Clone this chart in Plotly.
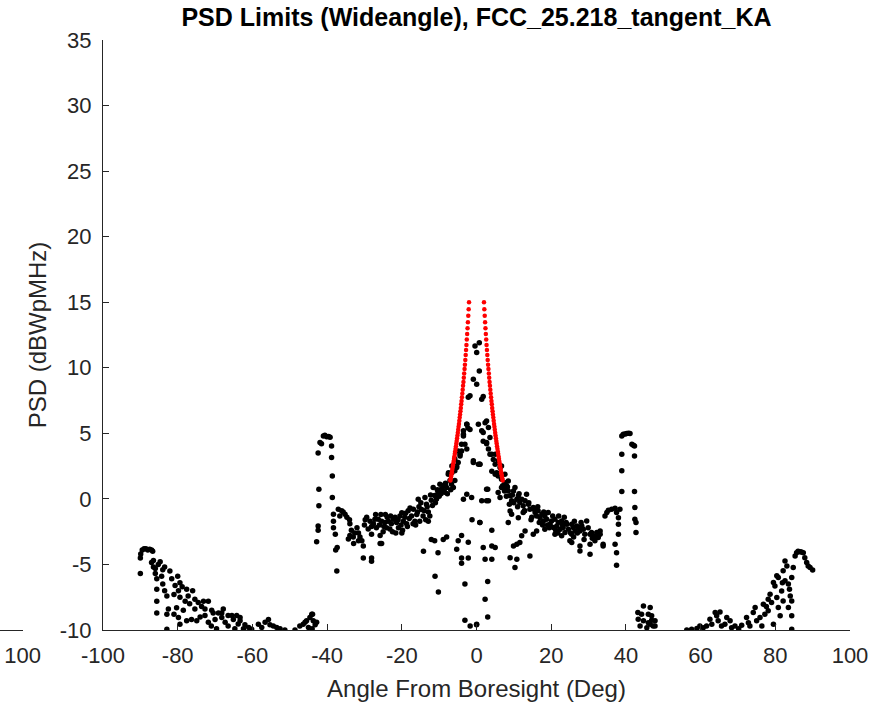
import plotly.graph_objects as go

# ---------------- data ----------------
# Red limit envelope: off-axis angle (deg, one side) and PSD limit (dBW/MHz)
red_theta = [2.0, 2.1, 2.2, 2.3, 2.4, 2.5, 2.6, 2.7, 2.8, 2.9, 3.0, 3.1, 3.2, 3.3, 3.4, 3.5,
             3.6, 3.7, 3.8, 3.9, 4.0, 4.1, 4.2, 4.3, 4.4, 4.5, 4.6, 4.7, 4.8, 4.9, 5.0, 5.1,
             5.2, 5.3, 5.4, 5.5, 5.6, 5.7, 5.8, 5.9, 6.0, 6.1, 6.2, 6.3, 6.4, 6.5, 6.6, 6.7,
             6.8, 6.9, 7.0]
red_psd = [15.00, 14.47, 13.97, 13.48, 13.02, 12.58, 12.15, 11.74, 11.35, 10.97, 10.60, 10.24,
           9.90, 9.56, 9.24, 8.92, 8.62, 8.32, 8.03, 7.75, 7.47, 7.21, 6.94, 6.69, 6.44, 6.20,
           5.96, 5.72, 5.50, 5.27, 5.05, 4.84, 4.63, 4.42, 4.22, 4.02, 3.82, 3.63, 3.44, 3.25,
           3.07, 2.89, 2.72, 2.54, 2.37, 2.20, 2.04, 1.87, 1.71, 1.55, 1.40]

# Black PSD samples, segment by segment
left_tail_deg = [-90.0, -90.0, -89.9, -89.5, -89.0, -88.5, -88.0, -87.5, -87.0, -86.7,
                 -87.0, -86.5, -86.5, -86.0, -86.0, -85.6, -85.6, -85.6, -85.6, -85.2,
                 -84.7, -84.3, -84.0, -82.9, -82.9, -82.9, -82.5, -82.1, -81.6, -80.7,
                 -80.3, -79.8, -79.8, -79.4, -79.4, -79.4, -78.5, -78.0, -77.6, -77.6,
                 -77.2, -76.8, -76.3, -75.4, -75.4, -74.9, -74.5, -73.6, -73.1, -72.7,
                 -72.7, -71.8, -71.8, -70.9, -70.5, -70.0, -69.6, -69.1, -68.2, -68.2,
                 -67.3, -66.5, -66.5, -65.5, -65.1, -64.7, -64.2, -63.8, -63.3, -63.3,
                 -62.4, -62.0, -61.0, -84.0, -83.5, -83.5, -81.0, -81.0, -80.0, -78.8,
                 -76.0, -74.0, -71.0, -67.8, -60.2]
left_tail_psd = [-5.7, -4.5, -4.2, -3.9, -3.8, -3.8, -3.9, -3.85, -3.9, -4.0,
                 -4.85, -5.2, -4.7, -5.3, -5.7, -6.1, -6.9, -7.8, -8.7, -5.0,
                 -4.8, -5.9, -5.4, -7.4, -8.8, -9.94, -8.4, -5.5, -6.1, -6.6,
                 -8.3, -7.0, -9.05, -6.4, -7.5, -9.56, -8.5, -7.8, -6.9, -9.3,
                 -7.4, -8.0, -9.2, -7.65, -8.4, -9.3, -7.9, -8.2, -7.8, -8.4,
                 -8.9, -7.8, -9.4, -8.5, -8.7, -9.2, -9.9, -8.7, -8.7, -9.05,
                 -9.4, -8.9, -9.7, -8.9, -9.2, -9.9, -8.9, -9.55, -9.05, -9.3,
                 -9.9, -9.6, -9.8, -6.5, -5.2, -7.0, -7.3, -8.8, -5.9, -6.7,
                 -7.0, -9.0, -9.7, -8.4, -9.95]

left_low_deg = [-58.4, -57.5, -56.6, -55.7, -55.3, -54.4, -53.5, -52.6, -51.3, -48.6, -47.3,
                -46.4, -45.9, -45.5, -44.6, -44.1, -43.9, -43.7, -43.2, -42.8, -44.0, -45.0]
left_low_psd = [-9.56, -9.8, -9.4, -9.2, -9.6, -9.7, -9.8, -9.9, -10.0, -10.0, -9.7,
                -9.56, -9.4, -9.3, -9.05, -8.8, -8.8, -9.3, -9.6, -9.4, -9.9, -9.8]

left_spike_deg = [-41.0, -40.6, -40.1, -39.6, -39.2, -41.9, -41.5, -38.8, -42.4, -38.8,
                  -38.6, -42.2, -38.6, -42.2, -42.4, -42.4, -42.8, -37.4]
left_spike_psd = [4.8, 4.85, 4.73, 4.75, 4.7, 4.3, 4.2, 4.04, 3.5, 3.15,
                  1.75, 0.74, 0.1, -0.53, -2.06, -2.4, -3.26, -5.5]

left_band_deg = [-37.0, -36.1, -35.2, -34.7, -38.3, -38.3, -38.3, -37.8, -37.3, -37.7,
                 -33.9, -33.5, -33.9, -33.0, -34.3, -32.6, -31.6, -31.2, -30.7, -30.3, -31.6,
                 -29.4, -28.5, -28.1, -27.2, -26.3, -25.4, -30.3, -28.1, -28.1, -28.1, -25.8,
                 -25.4, -25.0, -24.5, -23.6, -24.1, -23.2, -22.8, -22.3, -21.8, -21.4, -20.9,
                 -20.5, -20.0, -19.6, -19.2, -18.7, -18.3, -17.4, -16.9, -16.5, -16.0, -15.6,
                 -15.2, -14.7, -14.3, -13.8, -13.4, -12.9, -12.9, -12.5, -12.1, -11.6, -11.2,
                 -10.7, -10.3, -9.8, -9.3, -8.9, -8.5, -8.0, -7.55, -7.1, -6.7, -6.2, -5.8,
                 -32.0, -30.0, -29.0, -27.6, -26.8, -26.0, -24.8, -23.9, -22.5, -21.0, -20.2,
                 -19.0, -18.0, -17.8, -17.0, -15.8, -14.9, -14.0, -13.2, -12.3, -11.8, -11.0,
                 -10.5, -10.0, -9.5, -9.0, -8.3, -7.8, -6.9, -36.6, -35.7, -34.0, -32.9,
                 -29.8, -27.0, -25.6, -24.4, -23.0, -21.6, -19.8, -18.5, -16.3, -15.4, -13.6,
                 -25.8, -20.0, -14.2, -12.1, -11.2, -10.3, -8.9, -8.0, -11.1, -10.2, -5.3,
                 -4.9, -4.0, -4.0, -4.0, -3.1, -2.2, -2.2, -3.1, -1.7, 0.0]
left_band_psd = [-0.79, -0.9, -1.17, -1.4, -1.17, -1.7, -2.2, -2.7, -3.7, -3.9,
                 -1.9, -2.4, -2.8, -2.9, -3.05, -2.6, -2.6, -2.9, -3.2, -3.6, -3.2,
                 -1.4, -1.7, -2.1, -1.55, -1.55, -1.7, -4.5, -4.5, -4.75, -2.7, -2.8,
                 -3.4, -2.5, -1.8, -1.7, -2.2, -2.3, -1.9, -1.55, -1.4, -1.8, -2.2,
                 -1.3, -1.05, -1.7, -1.4, -1.9, -0.9, -1.3, -0.79, -1.7, -1.2, -0.02,
                 -1.7, -0.8, -1.3, 0.1, -0.4, -1.0, -1.7, -1.3, -0.1, 0.86, 0.25,
                 0.0, 0.5, 1.12, 0.74, 0.6, 0.5, 0.86, 1.88, 1.4, 1.12, 0.86, 1.4,
                 -2.2, -2.0, -2.3, -1.9, -2.2, -2.0, -2.1, -1.4, -2.5, -1.6, -2.0,
                 -1.1, -1.5, -0.7, -1.9, -1.0, -0.3, -0.9, -0.6, 0.3, -0.5, -0.3,
                 0.7, 0.2, 0.4, 1.0, 1.2, 0.4, 0.7, -1.3, -1.0, -1.6, -3.4,
                 -1.6, -1.2, -1.2, -1.2, -1.3, -2.6, -2.4, -2.1, -2.0, -0.6, -1.6,
                 -3.4, -2.6, -4.0, -3.1, -3.2, -4.1, -3.1, -2.9, -5.9, -7.1, -3.85,
                 -3.2, -2.8, -4.5, -4.9, -6.5, -3.3, -4.5, -9.25, -9.7, -9.6]

center_deg = [-0.4, 0.75, 0.05, 0.75, -0.85, 0.05, -1.74, 1.4, 2.3, -2.6, -2.3, 1.8, -3.5,
              3.6, 2.7, -4.4, -2.6, -0.85, 0.9, 4.1, 5.4, 6.3, -5.3, -6.6, -8.4, -9.6,
              -3.5, -2.6, -1.74, -3.1, -4.0, -4.4, -4.9, -5.3, -5.8, -0.85, 0.5, 0.9,
              -2.6, -1.3, -3.5, -1.2, 0.5, 1.4, 1.8, 2.7, 3.2, 0.9, 3.6, 4.5, 5.0, 4.1,
              5.0, 5.8, 6.7, 7.6, 8.1, 7.2, 8.5, 3.0, 1.4, 3.2, 0.9, 1.8, 4.1, 4.1, 5.0,
              2.3, 4.1, 3.0, 2.3, 3.0, 0.05, 2.7, 3.2, 5.0, 5.8, 6.7, 7.6, 8.5,
              -3.5, -4.0, -4.9, -5.8, -6.6, -7.5, 1.8, -2.2, 2.7, 2.7]
center_psd = [11.67, 11.9, 11.16, 9.76, 9.13, 8.75, 7.86, 7.6, 5.8, 5.7, 5.4, 5.06, 4.8,
              4.68, 4.3, 3.4, 3.8, 2.9, 2.65, 3.4, 2.0, 2.4, 2.5, 2.0, 1.12, 0.7,
              4.93, 5.7, 5.3, 4.17, 3.66, 3.28, 2.77, 2.39, 2.14, 2.77, 2.65, -1.8,
              0.36, 0.1, -0.02, -1.6, 5.7, 5.2, 4.4, 4.2, 3.8, 2.65, 3.4, 3.0, 2.65, 2.1,
              1.88, 1.75, 1.5, 1.24, 1.0, 0.86, 0.6, 0.74, -0.15, -0.15, -1.8, -3.7, -2.4, -3.6, -3.7,
              -4.6, -4.6, -6.3, -7.65, -9.0, -9.56, 5.95, 5.44, 3.4, 2.9, 2.5, 1.88, 1.37,
              5.2, 4.17, 3.66, 3.03, 2.5, 2.0, 7.8, 7.75, 0.74, -0.15]

right_band_deg = [5.8, 6.3, 6.7, 9.0, 9.4, 9.9, 10.3, 10.8, 11.2, 11.6, 12.1, 12.5, 13.0, 13.4,
                  13.9, 14.3, 15.2, 15.7, 16.1, 16.5, 17.0, 17.5, 17.9, 18.3, 18.8, 19.2, 19.7,
                  20.1, 20.6, 21.0, 21.5, 21.9, 22.4, 22.8, 23.2, 23.7, 24.2, 24.6, 25.5, 25.9,
                  26.4, 26.8, 27.3, 27.7, 28.2, 28.6, 29.5, 30.4, 30.8, 31.3, 31.7, 32.2, 33.1,
                  32.6, 33.9, 30.4, 30.4, 27.7, 27.7, 25.0, 25.5,
                  9.9, 10.8, 11.6, 12.1, 13.0, 14.3, 15.2, 16.1, 9.0, 10.3, 10.8, 8.5, 9.0,
                  9.4, 11.2, 12.5, 18.3, 21.0, 22.8, 25.5,
                  7.5, 8.0, 8.8, 10.0, 11.0, 12.8, 14.0, 14.8, 15.5, 16.8, 18.0, 19.0, 20.4,
                  21.2, 22.0, 23.0, 24.0, 25.2, 26.2, 27.0, 28.0, 29.0, 29.9, 31.0, 32.0,
                  7.0, 8.3, 9.6, 11.4, 12.9, 14.6, 16.4, 17.7, 19.5, 21.8, 23.5, 26.0, 28.8]
right_band_psd = [0.48, 0.1, 0.86, 0.23, -0.15, 0.6, 0.86, -0.02, 0.23, -0.28, -0.02, -0.53, -0.15, 0.36,
                  -0.4, -0.79, -0.66, -1.04, -1.3, -0.9, -1.43, -1.17, -1.68, -1.3, -1.55, -1.04, -1.93,
                  -1.68, -2.19, -1.55, -2.06, -1.81, -2.31, -1.68, -2.19, -2.57, -1.93, -2.31, -1.93, -2.19,
                  -2.44, -2.06, -2.19, -2.44, -2.06, -2.31, -1.68, -2.69, -2.57, -2.82, -3.2, -2.57, -2.44,
                  -2.95, -3.59, -3.46, -4.22, -3.59, -3.97, -3.2, -2.69,
                  -3.59, -3.46, -3.33, -2.82, -2.44, -4.35, -2.69, -2.44, -4.48, -5.24, -4.6, -1.81, -0.92,
                  -1.17, -1.43, -1.04, -2.31, -2.69, -2.82, -3.33,
                  0.6, 0.2, -0.4, -0.3, -0.6, -0.9, -0.3, -1.4, -0.8, -1.8, -1.0, -2.0, -1.3,
                  -2.4, -1.3, -2.0, -1.8, -2.6, -1.7, -2.6, -1.8, -2.7, -2.2, -3.0, -2.9,
                  1.0, 0.9, 0.3, 0.4, -0.9, -1.6, -0.6, -2.0, -2.2, -2.6, -1.4, -2.9, -3.1]

right_spike_deg = [39.3, 40.2, 41.1, 38.9, 41.6, 42.3, 38.9, 42.3, 38.9, 38.9, 42.3, 42.4, 42.4,
                   42.7, 42.7, 38.4, 34.4, 34.9, 35.3, 36.2, 37.1, 37.5, 38.0, 38.0, 38.0, 37.1,
                   37.5, 37.5, 33.9, 33.1, 39.8, 40.7, 42.0]
right_spike_psd = [4.93, 4.98, 4.98, 4.8, 4.17, 4.04, 3.41, 3.28, 2.14, 0.56, 0.56, -0.66, -1.55,
                   -1.81, -2.57, -0.79, -1.3, -1.04, -0.86, -0.79, -0.71, -1.04, -1.43, -1.93, -2.69, -3.46,
                   -4.1, -5.06, -3.46, -2.69, 4.95, 5.0, 4.1]

right_low_deg = [44.7, 43.2, 44.2, 46.0, 43.3, 44.7, 46.0, 46.9, 43.8, 45.6, 47.3, 46.5, 46.9,
                 47.8, 47.8, 46.5]
right_low_psd = [-8.16, -8.67, -8.8, -8.8, -9.18, -9.3, -9.44, -9.25, -9.69, -9.82, -9.69, -8.29, -8.92,
                 -9.3, -9.69, -9.56]

right_tail_deg = [56.3, 57.6, 59.0, 59.8, 60.7, 61.6, 62.5, 63.0, 63.9, 64.3, 64.7, 65.2, 65.6,
                  66.5, 67.0, 67.9, 68.3, 69.2, 71.0, 72.3, 72.8, 73.2, 74.1, 74.6, 75.0, 75.9,
                  76.4, 76.8, 77.2, 78.1, 78.6, 79.0, 79.5, 79.9, 80.4, 80.8, 80.8, 81.3, 81.7,
                  82.1, 82.1, 82.6, 82.6, 83.1, 83.5, 83.5, 84.0, 84.4, 84.4, 84.4, 84.4, 84.8,
                  85.3, 85.7, 86.6, 87.5, 87.9, 88.4, 88.8, 89.3, 90.0, 80.4, 79.5, 78.1, 86.1,
                  87.0, 83.8, 81.9, 77.6, 70.2]
right_tail_psd = [-10.0, -9.94, -9.89, -9.69, -9.82, -9.69, -9.18, -9.56, -8.67, -8.92, -9.3, -8.62, -9.69,
                  -9.56, -9.05, -9.3, -9.82, -9.69, -9.63, -9.05, -9.44, -9.69, -8.67, -8.29, -9.3, -9.05,
                  -9.69, -8.03, -8.8, -8.54, -7.27, -7.91, -9.56, -6.64, -7.53, -6.0, -8.29, -8.92, -7.02,
                  -5.49, -7.78, -4.73, -6.25, -5.11, -6.5, -8.29, -7.4, -6.0, -7.78, -8.92, -9.94, -5.24,
                  -4.35, -4.1, -4.04, -4.1, -4.48, -4.86, -5.11, -5.24, -5.42, -5.87, -6.38, -7.65, -4.0,
                  -4.05, -6.9, -6.4, -8.2, -9.9]

# Tick values / labels (MATLAB style, ASCII hyphen minus)
x_ticks = [-100, -80, -60, -40, -20, 0, 20, 40, 60, 80, 100]
x_tick_text = ["-100", "-80", "-60", "-40", "-20", "0", "20", "40", "60", "80", "100"]
y_ticks = [-10, -5, 0, 5, 10, 15, 20, 25, 30, 35]
y_tick_text = ["-10", "-5", "0", "5", "10", "15", "20", "25", "30", "35"]

# ---------------- figure ----------------
black_x = (left_tail_deg + left_low_deg + left_spike_deg + left_band_deg + center_deg
           + right_band_deg + right_spike_deg + right_low_deg + right_tail_deg)
black_y = (left_tail_psd + left_low_psd + left_spike_psd + left_band_psd + center_psd
           + right_band_psd + right_spike_psd + right_low_psd + right_tail_psd)

red_x = [-t for t in red_theta] + red_theta
red_y = red_psd + red_psd

AX = "#262626"
FONT = "Liberation Sans, Arial, Helvetica, sans-serif"
W, H = 871, 707

fig = go.Figure()
fig.add_trace(go.Scatter(x=black_x, y=black_y, mode="markers",
                         marker=dict(color="black", size=5.5, line=dict(width=0)),
                         showlegend=False, hoverinfo="x+y"))
fig.add_trace(go.Scatter(x=red_x, y=red_y, mode="markers",
                         marker=dict(color="red", size=4.5, line=dict(width=0)),
                         showlegend=False, hoverinfo="x+y"))
# fragment of a neighbouring axes at the far left
fig.add_trace(go.Scatter(x=[], y=[], xaxis="x2", yaxis="y", showlegend=False))

common = dict(showline=True, linecolor=AX, linewidth=1, ticks="inside", ticklen=6,
              tickcolor=AX, tickwidth=1, showgrid=False, zeroline=False, mirror=False,
              automargin=False,
              tickfont=dict(family=FONT, size=22, color=AX))

fig.update_layout(
    width=W, height=H,
    margin=dict(l=0, r=0, t=40, b=77, autoexpand=False),
    paper_bgcolor="white", plot_bgcolor="white",
    font=dict(family=FONT, color=AX),
    title=dict(text="PSD Limits (Wideangle), FCC_25.218_tangent_KA",
               font=dict(family=FONT, size=25, color="black", weight="bold"),
               x=476.5 / W, xanchor="center", xref="paper",
               y=1 - 17 / H, yanchor="middle", yref="container"),
    xaxis=dict(domain=[103 / W, 850 / W], range=[-100, 100], tickmode="array",
               tickvals=x_ticks, ticktext=x_tick_text, ticklabelstandoff=6,
               title=dict(text="Angle From Boresight (Deg)", standoff=12,
                          font=dict(family=FONT, size=24, color=AX)),
               **common),
    yaxis=dict(range=[-10, 35], tickmode="array", tickvals=y_ticks, ticktext=y_tick_text,
               ticklabelstandoff=6,
               title=dict(text="PSD (dBWpMHz)", standoff=6,
                          font=dict(family=FONT, size=24, color=AX)),
               **common),
    xaxis2=dict(domain=[0, 22.7 / W], range=[60, 100], anchor="y",
                tickmode="array", tickvals=[100], ticktext=["100"],
                ticklabelstandoff=6, **common),
)

fig.write_html("out.html",
               config={"displayModeBar": False},
               post_script="document.body.style.margin='0';document.body.style.overflow='hidden';")
